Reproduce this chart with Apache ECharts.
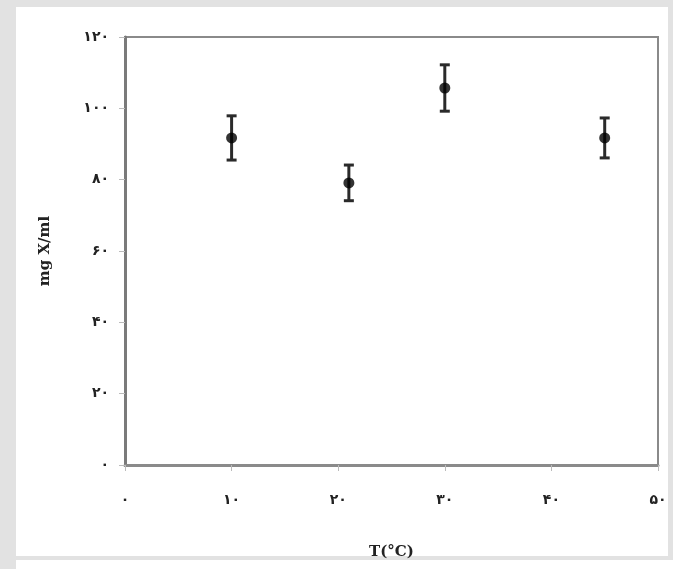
<!DOCTYPE html>
<html>
<head>
<meta charset="utf-8">
<script src="https://cdn.jsdelivr.net/npm/echarts@6/dist/echarts.min.js"></script>
<style>html,body{margin:0;padding:0;background:#e2e2e2;}#c{width:673px;height:569px;}</style>
</head>
<body>
<div id="c"></div>
<script>
var temps = [10, 21, 30, 45];
var values = [91.7, 79.1, 105.7, 91.7];
var errors = [6.2, 5.0, 6.5, 5.6];
var xTickLabels = {0:'۰',10:'۱۰',20:'۲۰',30:'۳۰',40:'۴۰',50:'۵۰'};
var yTickLabels = {0:'۰',20:'۲۰',40:'۴۰',60:'۶۰',80:'۸۰',100:'۱۰۰',120:'۱۲۰'};
var xName = 'T(°C)';
var yName = 'mg X/ml';

var points = temps.map(function(t,i){return [t, values[i]];});
var bars = temps.map(function(t,i){return [t, values[i]-errors[i], values[i]+errors[i]];});

var chart = echarts.init(document.getElementById('c'));
chart.setOption({
  backgroundColor: '#e2e2e2',
  animation: false,
  graphic: [
    {type:'rect', z:-10, shape:{x:16,y:7,width:652,height:549}, style:{fill:'#ffffff'}},
    {type:'rect', z:-10, shape:{x:16,y:560,width:657,height:9}, style:{fill:'#ffffff'}}
  ],
  grid: {left:125, right:15, top:37, bottom:104, show:true, borderColor:'#8a8a8a', borderWidth:2, backgroundColor:'#ffffff'},
  xAxis: {
    type:'value', min:0, max:50, interval:10,
    name:xName, nameLocation:'middle', nameGap:80,
    nameTextStyle:{fontFamily:'DejaVu Serif', fontSize:15, color:'#222', fontWeight:'bold'},
    axisLine:{show:true, lineStyle:{color:'#8a8a8a', width:3}},
    axisTick:{show:true, length:6, lineStyle:{color:'#bbb'}},
    splitLine:{show:false},
    axisLabel:{margin:28, fontSize:14, fontWeight:'bold', color:'#222', fontFamily:'DejaVu Sans', formatter:function(v){return xTickLabels[v]!==undefined?xTickLabels[v]:'';}}
  },
  yAxis: {
    type:'value', min:0, max:120, interval:20,
    name:yName, nameLocation:'middle', nameGap:72, nameRotate:90,
    nameTextStyle:{fontFamily:'DejaVu Serif', fontSize:15, color:'#222', fontWeight:'bold'},
    axisLine:{show:true, lineStyle:{color:'#7a7a7a', width:3}},
    axisTick:{show:true, length:6, lineStyle:{color:'#bbb'}},
    splitLine:{show:false},
    axisLabel:{margin:16, fontSize:14, fontWeight:'bold', color:'#222', fontFamily:'DejaVu Sans', formatter:function(v){return yTickLabels[v]!==undefined?yTickLabels[v]:'';}}
  },
  series: [
    {
      type:'custom',
      data: bars,
      renderItem: function(params, api){
        var x = api.value(0);
        var lo = api.coord([x, api.value(1)]);
        var hi = api.coord([x, api.value(2)]);
        var w = 5;
        var st = {stroke:'#2a2a2a', lineWidth:3};
        return {type:'group', children:[
          {type:'line', shape:{x1:lo[0],y1:lo[1],x2:hi[0],y2:hi[1]}, style:st},
          {type:'line', shape:{x1:lo[0]-w,y1:lo[1],x2:lo[0]+w,y2:lo[1]}, style:st},
          {type:'line', shape:{x1:hi[0]-w,y1:hi[1],x2:hi[0]+w,y2:hi[1]}, style:st}
        ]};
      },
      z: 2
    },
    {
      type:'scatter',
      data: points,
      symbol:'circle',
      symbolSize:11,
      itemStyle:{color:'#000'},
      z: 3
    }
  ]
});
</script>
</body>
</html>
